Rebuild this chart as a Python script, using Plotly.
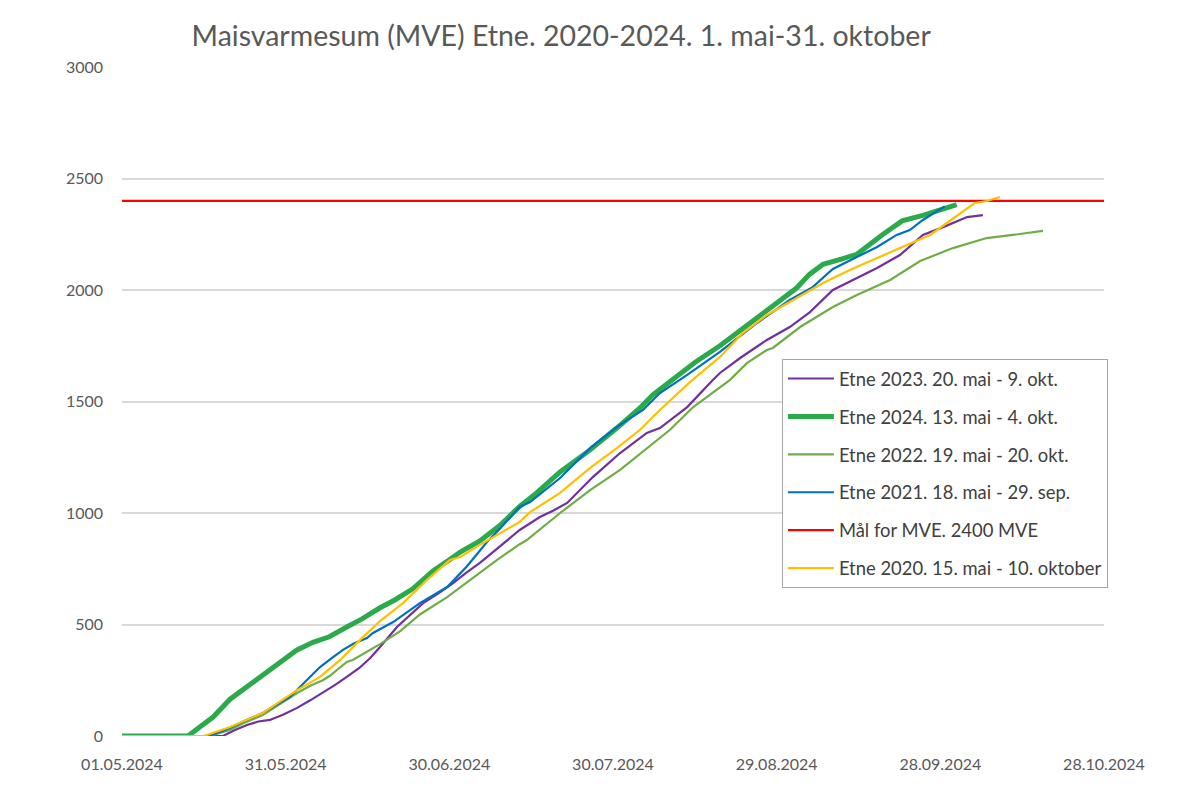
import pandas as pd
import plotly.graph_objects as go

BASE = pd.Timestamp("2024-05-01")

# Day offsets from 1 May and cumulative MVE values
days_2023 = [0, 18.5, 20.5, 22.9, 25, 27.1, 29.5, 32.1, 34.5, 36.8, 39, 41.2, 43.5, 45.5, 47.3, 50.4, 53, 55.2, 58, 60.7, 63, 65.6, 68.5, 71.1, 72.9, 76.6, 79, 81.6, 86.3, 91.3, 96.2, 98.6, 103.6, 108.3, 109.6, 113.3, 118.2, 122.4, 126.1, 130.3, 134.7, 138.4, 142.6, 146.8, 150.5, 154.9, 157.8]
vals_2023 = [0, 0, 25, 49, 65, 72, 95, 126, 160, 193, 228, 265, 305, 350, 399, 489, 545, 596, 640, 686, 730, 776, 835, 888, 924, 982, 1010, 1045, 1161, 1269, 1359, 1381, 1475, 1596, 1628, 1695, 1776, 1834, 1901, 2000, 2054, 2099, 2157, 2247, 2282, 2327, 2336]

days_2024 = [0, 12.1, 14.5, 16.7, 19.8, 22.9, 25.8, 29, 32, 35, 38, 41.2, 44, 47.3, 50, 53.3, 55.5, 57, 60, 62, 65.6, 69.3, 72.9, 76, 80.3, 85.8, 90.7, 94.9, 97.3, 102.3, 105, 109.6, 115, 120, 123.7, 126, 128.5, 132, 134.7, 139.5, 143, 146.8, 150, 153]
vals_2024 = [0, 0, 45, 85, 165, 220, 270, 332, 385, 420, 445, 489, 525, 575, 610, 660, 705, 740, 790, 825, 875, 945, 1030, 1090, 1184, 1283, 1381, 1470, 1530, 1625, 1675, 1750, 1852, 1946, 2010, 2070, 2115, 2140, 2160, 2250, 2310, 2335, 2360, 2383]

days_2022 = [0, 16, 19.8, 22.5, 25.8, 29, 32.1, 34.5, 36.8, 38.1, 41.2, 42.3, 47.3, 51, 54.6, 59.6, 63.8, 68.7, 72.9, 74.2, 80.3, 85.8, 91.3, 95.5, 100.4, 104.7, 109.6, 111.4, 114.6, 118.2, 119.3, 124.3, 130.3, 134.7, 140.8, 146.3, 152.3, 158.5, 163.3, 168.8]
vals_2022 = [0, 0, 27, 60, 94, 145, 193, 225, 250, 270, 332, 341, 412, 470, 545, 623, 700, 789, 860, 879, 1000, 1103, 1193, 1274, 1372, 1475, 1565, 1596, 1673, 1731, 1740, 1834, 1924, 1978, 2045, 2130, 2188, 2233, 2247, 2265]

days_2021 = [0, 16, 19.8, 22.5, 25.8, 28.5, 30.8, 33.9, 36.3, 38.5, 40.5, 42.5, 44.9, 46, 49.7, 54.6, 59.6, 63.2, 66.9, 69.3, 72.9, 74.8, 80.3, 85.8, 90.7, 95.5, 98.6, 103.6, 109.6, 116.4, 122.4, 126.6, 130.3, 134.7, 138.4, 142, 144.4, 146.8, 149.9, 150.8]
vals_2021 = [0, 0, 36, 68, 103, 140, 175, 251, 309, 350, 386, 415, 439, 462, 511, 596, 668, 760, 870, 930, 1027, 1049, 1157, 1291, 1386, 1462, 1538, 1619, 1722, 1852, 1955, 2013, 2094, 2148, 2193, 2247, 2269, 2314, 2363, 2375]

days_2020 = [0, 15, 19.8, 22.5, 25.8, 29, 32.1, 36.3, 40, 43.6, 47.3, 51.5, 55.9, 60.1, 62, 65.6, 69.3, 72.9, 74.8, 80.3, 85.8, 90.7, 94.9, 98.6, 104.1, 109.6, 113.8, 116.9, 118.2, 122.4, 128.5, 133.4, 138.4, 143.9, 148.1, 149.9, 153.6, 156.3, 158.5, 160.9]
vals_2020 = [0, 0, 40, 70, 103, 155, 206, 265, 341, 430, 515, 596, 700, 789, 803, 857, 908, 960, 1004, 1090, 1202, 1291, 1372, 1462, 1587, 1700, 1807, 1865, 1888, 1946, 2031, 2090, 2143, 2202, 2247, 2278, 2345, 2390, 2399, 2417]

days_goal = [0, 180]
vals_goal = [2400, 2400]

series = [
    ("Etne 2023. 20. mai - 9. okt.", days_2023, vals_2023, "#7030A0", 2.2),
    ("Etne 2024. 13. mai - 4. okt.", days_2024, vals_2024, "#2AAA4A", 5),
    ("Etne 2022. 19. mai - 20. okt.", days_2022, vals_2022, "#70AD47", 2.2),
    ("Etne 2021. 18. mai - 29. sep.", days_2021, vals_2021, "#0070C0", 2.2),
    ("Mål for MVE. 2400 MVE", days_goal, vals_goal, "#FF0000", 2.2),
    ("Etne 2020. 15. mai - 10. oktober", days_2020, vals_2020, "#FFC000", 2.2),
]

tick_days = [0, 30, 60, 90, 120, 150, 180]

fig = go.Figure()
for i, (name, d, v, col, w) in enumerate(series):
    x = [BASE + pd.to_timedelta(t, unit="D") for t in d]
    fig.add_trace(go.Scatter(
        x=x, y=v, mode="lines", name=name,
        line=dict(color=col, width=w),
        legendgroup=f"g{i}",
    ))

tickvals = [BASE + pd.Timedelta(days=t) for t in tick_days]
ticktext = [t.strftime("%d.%m.%Y") for t in tickvals]

fig.update_layout(
    width=1200, height=800,
    paper_bgcolor="white", plot_bgcolor="white",
    margin=dict(l=114, r=104, t=59, b=72),
    font=dict(family="Lato, Carlito, sans-serif", color="#595959", size=16),
    title=dict(
        text="Maisvarmesum (MVE) Etne. 2020-2024. 1. mai-31. oktober",
        x=0.461, xanchor="center", xref="container",
        y=0.965, yanchor="middle", yref="container",
        font=dict(size=28.5, color="#595959"),
    ),
    xaxis=dict(
        type="date",
        range=[tickvals[0], tickvals[-1]],
        tickvals=tickvals, ticktext=ticktext,
        showgrid=False, zeroline=False, showline=False,
        ticks="", tickfont=dict(size=16, color="#595959"),
        ticklabelstandoff=17,
    ),
    yaxis=dict(
        range=[0, 3000], dtick=500, tick0=0,
        showgrid=True, gridcolor="#D9D9D9", gridwidth=1.5,
        zeroline=False, showline=False, ticks="",
        tickfont=dict(size=16, color="#595959"),
        ticklabelstandoff=18,
    ),
    legend=dict(
        x=0.672, y=0.5635, xanchor="left", yanchor="top",
        bordercolor="#A6A6A6", borderwidth=1, bgcolor="white",
        font=dict(size=18.4, color="#404040"),
        tracegroupgap=11, itemwidth=46,
    ),
    showlegend=True,
)

fig.write_html("out.html")
